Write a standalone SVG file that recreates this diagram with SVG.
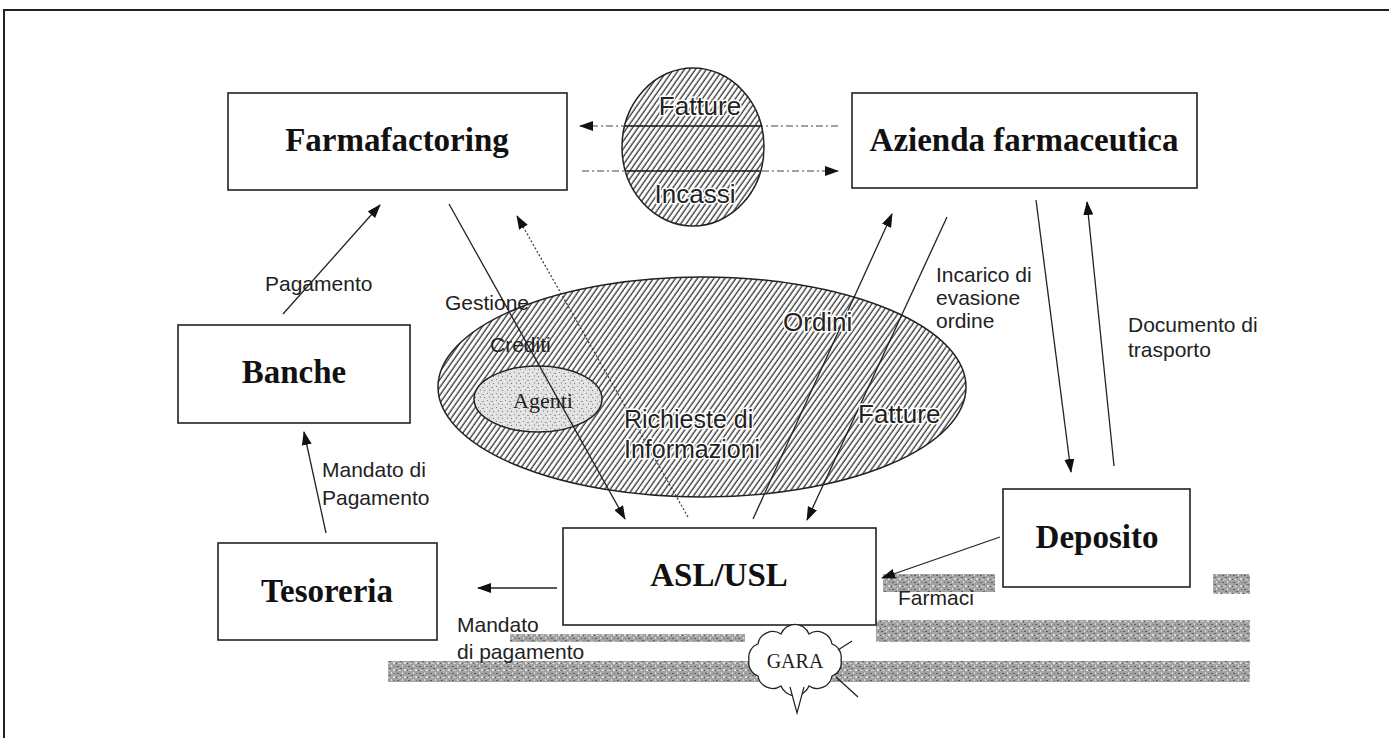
<svg xmlns="http://www.w3.org/2000/svg" width="1389" height="738" viewBox="0 0 1389 738">
<defs>
<style>
.box{fill:#fff;stroke:#222;stroke-width:1.6}
.bt{font-family:"Liberation Serif","Times New Roman",serif;font-weight:bold;font-size:33px;fill:#111;text-anchor:middle}
.lb{font-family:"Liberation Sans",Arial,sans-serif;font-size:21px;fill:#222}
.big{font-family:"Liberation Sans",Arial,sans-serif;font-size:26px;fill:#222;stroke:#fff;stroke-width:3px;paint-order:stroke;stroke-linejoin:round}
.ln{fill:none;stroke:#222;stroke-width:1.3}
.dash{fill:none;stroke:#444;stroke-width:1.2;stroke-dasharray:7 3 2 3}
.dot{fill:none;stroke:#333;stroke-width:1.2;stroke-dasharray:2 2}
.band{fill:url(#grain)}
</style>
<marker id="ah" viewBox="0 0 14 10" refX="13" refY="5" markerWidth="14" markerHeight="10" markerUnits="userSpaceOnUse" orient="auto"><path d="M0,0 L14,5 L0,10 z" fill="#111"/></marker>
<pattern id="hatch" width="4.5" height="4.5" patternUnits="userSpaceOnUse" patternTransform="rotate(35)">
<rect width="4.5" height="4.5" fill="#fff"/>
<line x1="2" y1="0" x2="2" y2="4.5" stroke="#333" stroke-width="1.3"/>
</pattern>
<pattern id="grain" width="11" height="7" patternUnits="userSpaceOnUse">
<rect width="11" height="7" fill="#a3a3a3"/>
<rect x="1" y="1" width="2" height="1" fill="#5a5a5a"/>
<rect x="6" y="0" width="1" height="2" fill="#e0e0e0"/>
<rect x="4" y="3" width="2" height="1" fill="#666"/>
<rect x="8" y="4" width="2" height="2" fill="#dcdcdc"/>
<rect x="0" y="5" width="1" height="1" fill="#4a4a4a"/>
<rect x="9" y="1" width="1" height="1" fill="#707070"/>
<rect x="2" y="5" width="3" height="1" fill="#cfcfcf"/>
</pattern>
<pattern id="stip" width="9" height="7" patternUnits="userSpaceOnUse">
<rect width="9" height="7" fill="#e2e2e2"/>
<rect x="1" y="1" width="1" height="1" fill="#888"/>
<rect x="5" y="2" width="2" height="1" fill="#999"/>
<rect x="3" y="4" width="1" height="2" fill="#aaa"/>
<rect x="7" y="5" width="1" height="1" fill="#777"/>
<rect x="0" y="3" width="1" height="1" fill="#fff"/>
</pattern>
</defs>

<rect width="1389" height="738" fill="#fff"/>
<path d="M4,738 V10 H1389" fill="none" stroke="#222" stroke-width="2"/>

<g id="bands">
<rect class="band" x="883" y="574" width="112" height="18"/>
<rect class="band" x="1213" y="574" width="37" height="20"/>
<rect class="band" x="510" y="634" width="235" height="8"/>
<rect class="band" x="876" y="620" width="374" height="22"/>
<rect class="band" x="388" y="661" width="862" height="21"/>
</g>

<g id="ellisse-mercato">
<ellipse cx="702" cy="387" rx="264" ry="110" fill="url(#hatch)" stroke="#222" stroke-width="1.5"/>
</g>
<g id="agenti">
<ellipse cx="538" cy="399" rx="64" ry="33" fill="url(#stip)" stroke="#222" stroke-width="1.5"/>
<text x="543" y="408" text-anchor="middle" style="font-family:'Liberation Serif','Times New Roman',serif;font-size:22px;fill:#222">Agenti</text>
</g>
<g id="flussi-fatture-incassi">
<ellipse cx="693" cy="147" rx="71" ry="79" fill="url(#hatch)" stroke="#222" stroke-width="1.5"/>
</g>

<g id="farmafactoring"><rect class="box" x="228" y="93" width="339" height="97"/><text class="bt" x="397" y="151">Farmafactoring</text></g>
<g id="azienda"><rect class="box" x="852" y="93" width="345" height="95"/><text class="bt" x="1024" y="151">Azienda farmaceutica</text></g>
<g id="banche"><rect class="box" x="178" y="325" width="232" height="98"/><text class="bt" x="294" y="383">Banche</text></g>
<g id="tesoreria"><rect class="box" x="218" y="543" width="219" height="97"/><text class="bt" x="327" y="602">Tesoreria</text></g>
<g id="asl"><rect class="box" x="563" y="528" width="313" height="97"/><text class="bt" x="719" y="586">ASL/USL</text></g>
<g id="deposito"><rect class="box" x="1003" y="489" width="187" height="98"/><text class="bt" x="1097" y="548">Deposito</text></g>

<g id="gara">
<path d="M841,660 A14,14 0 0 1 832,676 A15,15 0 0 1 809,686 A15,15 0 0 1 781,686 A15,15 0 0 1 758,676 A14,14 0 0 1 749,660 A14,14 0 0 1 758,644 A15,15 0 0 1 781,634 A15,15 0 0 1 809,634 A15,15 0 0 1 832,644 A14,14 0 0 1 841,660 Z" fill="#fff" stroke="#222" stroke-width="1.3"/>
<path d="M790,687 L797,713 L804,687" fill="#fff" stroke="#222" stroke-width="1.2"/>
<path d="M838,650 L852,641 M836,677 L858,697" class="ln"/>
<text x="795" y="668" text-anchor="middle" style="font-family:'Liberation Serif','Times New Roman',serif;font-size:20px;fill:#222">GARA</text>
</g>

<g id="connectors">
<line class="dash" x1="838" y1="126" x2="580" y2="126" marker-end="url(#ah)"/>
<line class="ln" x1="625" y1="126" x2="762" y2="126"/>
<line class="dash" x1="582" y1="171" x2="838" y2="171" marker-end="url(#ah)"/>
<line class="ln" x1="625" y1="171" x2="761" y2="171"/>
<line class="ln" x1="283" y1="314" x2="380" y2="205" marker-end="url(#ah)"/>
<line class="ln" x1="326" y1="533" x2="304" y2="432" marker-end="url(#ah)"/>
<line class="ln" x1="449" y1="204" x2="625" y2="519" marker-end="url(#ah)"/>
<line class="dot" x1="688" y1="517" x2="517" y2="216" marker-end="url(#ah)"/>
<line class="ln" x1="753" y1="519" x2="892" y2="214" marker-end="url(#ah)"/>
<line class="ln" x1="947" y1="217" x2="807" y2="520" marker-end="url(#ah)"/>
<line class="ln" x1="1036" y1="200" x2="1071" y2="472" marker-end="url(#ah)"/>
<line class="ln" x1="1114" y1="466" x2="1087" y2="202" marker-end="url(#ah)"/>
<line class="ln" x1="1000" y1="537" x2="882" y2="578" marker-end="url(#ah)"/>
<line class="ln" x1="557" y1="588" x2="478" y2="588" marker-end="url(#ah)"/>
</g>

<g id="labels">
<text class="big" x="700" y="115" text-anchor="middle">Fatture</text>
<text class="big" x="695" y="203" text-anchor="middle">Incassi</text>
<text class="lb" x="265" y="291">Pagamento</text>
<text class="lb" x="445" y="310">Gestione</text>
<text class="lb" x="490" y="352">Crediti</text>
<text class="lb" x="322" y="477">Mandato di</text>
<text class="lb" x="322" y="505">Pagamento</text>
<text class="big" x="783" y="331">Ordini</text>
<text class="big" x="858" y="423">Fatture</text>
<text class="big" x="624" y="428" style="font-size:25px">Richieste di</text>
<text class="big" x="624" y="458" style="font-size:25px">Informazioni</text>
<text class="lb" x="936" y="282">Incarico di</text>
<text class="lb" x="936" y="305">evasione</text>
<text class="lb" x="936" y="328">ordine</text>
<text class="lb" x="1128" y="332">Documento di</text>
<text class="lb" x="1128" y="357">trasporto</text>
<text class="lb" x="898" y="605">Farmaci</text>
<text class="lb" x="457" y="632">Mandato</text>
<text class="lb" x="457" y="659">di pagamento</text>
</g>
</svg>
